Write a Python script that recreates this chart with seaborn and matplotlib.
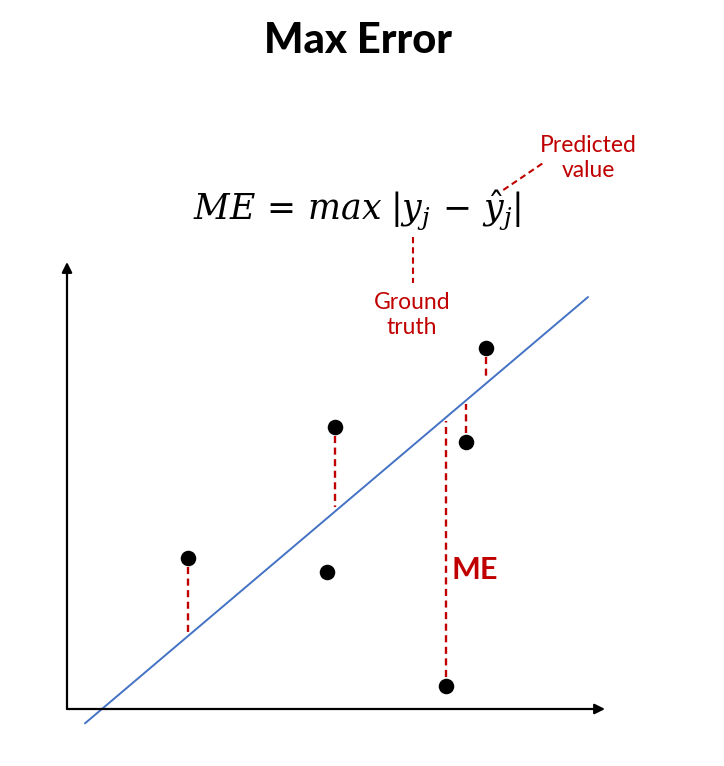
import matplotlib
matplotlib.use('Agg')
import matplotlib.pyplot as plt
import pandas as pd
import seaborn as sns

# ---- data (arbitrary units, origin at the axes corner) ----
point_x = [12.1, 26.8, 26.0, 37.9, 39.9, 41.9]
point_y = [15.1, 28.2, 13.7, 2.3, 26.7, 36.1]
has_residual = [True, True, False, True, True, True]
fit_slope = 0.8475
fit_intercept = -2.96
fit_x_range = [1.8, 52.1]
axis_x_max = 53.8
axis_y_max = 44.7

title = "Max Error"
formula = r"$ME\,=\,max\;|y_j\,-\,\hat{y}_j|$"
label_pred = "Predicted\nvalue"
label_truth = "Ground\ntruth"
label_me = "ME"

RED = '#C00000'
BLUE = '#4472C4'

sns.set_theme(style='white')
plt.rcParams['font.family'] = ['Lato', 'DejaVu Sans']
plt.rcParams['mathtext.fontset'] = 'dejavuserif'

fig = plt.figure(figsize=(7.24, 7.66), dpi=100)
ax = fig.add_axes([0, 0, 1, 1])
ax.set_xlim(-6.7, 65.7)
ax.set_ylim(-5.7, 70.9)
ax.axis('off')

pts = pd.DataFrame({'x': point_x, 'y': point_y, 'res': has_residual})
fit = pd.DataFrame({'x': fit_x_range,
                    'y': [fit_slope * v + fit_intercept for v in fit_x_range]})

# regression line
sns.lineplot(data=fit, x='x', y='y', color=BLUE, lw=1.4, ax=ax)

# residual dashed lines
for _, r in pts[pts['res']].iterrows():
    pred = fit_slope * r['x'] + fit_intercept
    sgn = 1 if pred > r['y'] else -1
    ax.plot([r['x'], r['x']], [r['y'] + sgn * 0.9, pred - sgn * 0.4],
            color=RED, lw=1.7, ls=(0, (3.0, 1.9)), zorder=3)

# points
sns.scatterplot(data=pts, x='x', y='y', s=125, color='black',
                edgecolor='black', linewidth=0, ax=ax, zorder=5)

# axes arrows
for tip in [(axis_x_max, 0), (0, axis_y_max)]:
    ax.annotate('', xy=tip, xytext=(0, 0),
                arrowprops=dict(arrowstyle='-|>,head_length=0.4,head_width=0.2',
                                color='black', lw=1.6, shrinkA=0, shrinkB=0,
                                mutation_scale=15))

# texts
ax.text(29.1, 65.6, title, ha='center', va='baseline', fontsize=30,
        fontweight='black', color='black')
ax.text(29.0, 49.0, formula, ha='center', va='baseline', fontsize=25,
        color='black')
ax.text(52.1, 55.1, label_pred, ha='center', va='center', fontsize=16.5,
        color=RED, linespacing=1.2)
ax.text(34.47, 39.4, label_truth, ha='center', va='center', fontsize=16.5,
        color=RED, linespacing=1.2)
ax.text(38.47, 12.97, label_me, ha='left', va='baseline', fontsize=22,
        fontweight='bold', color=RED)

# leader lines
ax.plot([43.63, 47.8], [51.9, 54.73], color=RED, lw=1.5, ls=(0, (3.0, 1.9)))
ax.plot([34.57, 34.57], [47.23, 42.57], color=RED, lw=1.5, ls=(0, (3.0, 1.9)))

fig.savefig('out.png', dpi=100, facecolor='white')
